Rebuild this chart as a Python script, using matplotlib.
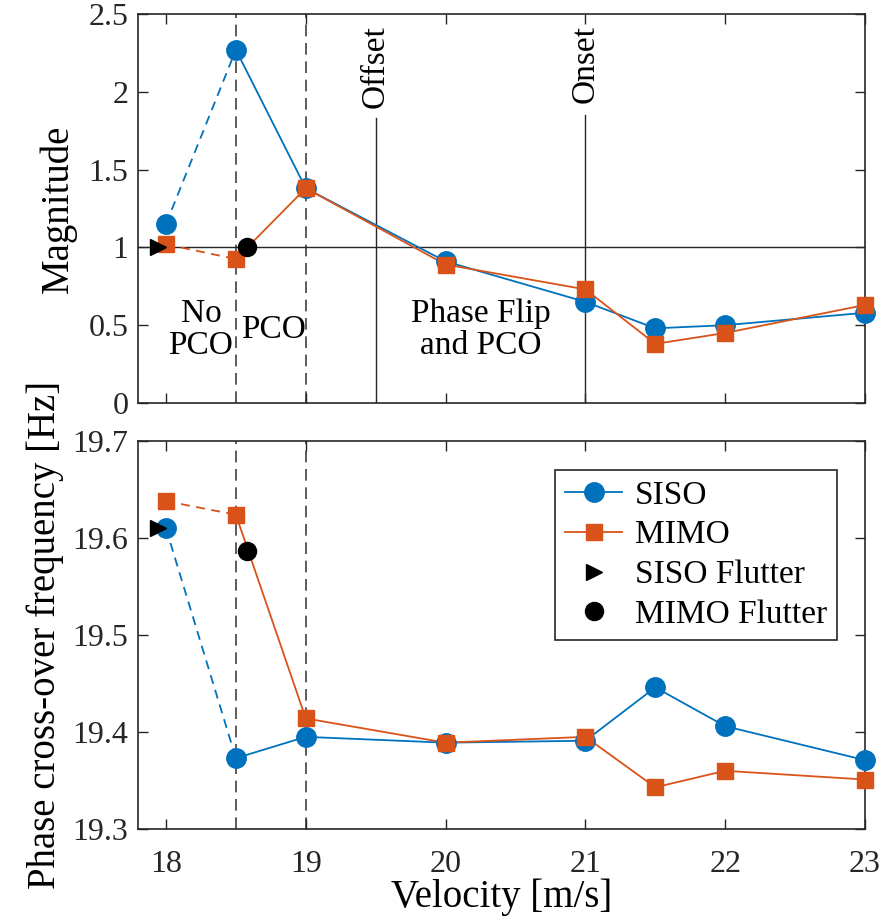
import matplotlib
matplotlib.use("Agg")
import matplotlib.pyplot as plt
from matplotlib.lines import Line2D

plt.rcParams['font.family'] = ['Liberation Serif', 'DejaVu Serif']
plt.rcParams['mathtext.fontset'] = 'stix'

velocity = [18, 18.5, 19, 20, 21, 21.5, 22, 23]
siso_mag = [1.15, 2.27, 1.38, 0.91, 0.65, 0.48, 0.50, 0.58]
mimo_mag = [1.02, 0.925, 1.38, 0.89, 0.73, 0.38, 0.45, 0.63]
siso_freq = [19.61, 19.373, 19.395, 19.389, 19.391, 19.446, 19.406, 19.371]
mimo_freq = [19.638, 19.624, 19.414, 19.389, 19.395, 19.343, 19.360, 19.351]

siso_flutter_v = 17.94
siso_flutter_mag = 1.0
siso_flutter_freq = 19.61
mimo_flutter_v = 18.58
mimo_flutter_mag = 1.0
mimo_flutter_freq = 19.587

pco_bounds = [18.5, 19]
offset_v = 19.5
onset_v = 21

blue = '#0072BD'
orange = '#D95319'

fig = plt.figure(figsize=(8.89, 9.24), dpi=100)
ax1 = fig.add_axes([138/889, 1-403/924, (865-138)/889, (403-14)/924])
ax2 = fig.add_axes([138/889, 1-829/924, (865-138)/889, (829-441)/924])

fs_tick = 23
fs_lab = 28
fs_ann = 24
ms_c = 14
ms_s = 11

def draw_series(ax, y_s, y_m):
    ax.plot(velocity[:2], y_s[:2], color=blue, ls=(0, (5, 3.5)), lw=1.3, zorder=3)
    ax.plot(velocity[:2], y_m[:2], color=orange, ls=(0, (5, 3.5)), lw=1.3, zorder=3)
    ax.plot(velocity[1:], y_s[1:], '-', color=blue, lw=1.3, zorder=3)
    ax.plot(velocity[1:], y_m[1:], '-', color=orange, lw=1.3, zorder=3)
    ax.plot(velocity, y_s, 'o', color=blue, ms=ms_c, mec=blue, zorder=4, clip_on=False)
    ax.plot(velocity, y_m, 's', color=orange, ms=ms_s, mec=orange, zorder=5, clip_on=False)

for ax in (ax1, ax2):
    for v in pco_bounds:
        ax.axvline(v, color='#404040', ls=(0, (7, 4)), lw=1.2, zorder=1)
    ax.set_xlim(17.8, 23)
    ax.set_xticks([18, 19, 20, 21, 22, 23])
    ax.tick_params(direction='in', length=7, width=1, top=True, right=True,
                   labelsize=fs_tick, colors='#262626')
    ax.tick_params(axis='y', pad=7)
    ax.tick_params(axis='x', pad=15)
    for s in ax.spines.values():
        s.set_linewidth(1.2)
        s.set_color('#262626')

# top axes
draw_series(ax1, siso_mag, mimo_mag)
ax1.axhline(1, color='#262626', lw=1, zorder=1)
ax1.plot([offset_v, offset_v], [0, 1.83], color='#262626', lw=1, zorder=1)
ax1.plot([onset_v, onset_v], [0, 1.85], color='#262626', lw=1, zorder=1)
ax1.text(offset_v, 2.43, 'Offset', rotation=90, ha='center', va='top', fontsize=fs_ann)
ax1.text(onset_v, 2.43, 'Onset', rotation=90, ha='center', va='top', fontsize=fs_ann)
ax1.text(18.25, 0.47, 'No\nPCO', ha='center', va='center', fontsize=fs_ann, linespacing=1.05)
ax1.text(18.77, 0.47, 'PCO', ha='center', va='center', fontsize=fs_ann)
ax1.text(20.25, 0.47, 'Phase Flip\nand PCO', ha='center', va='center', fontsize=fs_ann, linespacing=1.05)
ax1.plot([siso_flutter_v], [siso_flutter_mag], '>', color='black', ms=12, zorder=6)
ax1.plot([mimo_flutter_v], [mimo_flutter_mag], 'o', color='black', ms=13, zorder=6)
ax1.set_ylim(0, 2.5)
ax1.set_yticks([0, 0.5, 1, 1.5, 2, 2.5])
ax1.set_yticklabels(['0', '0.5', '1', '1.5', '2', '2.5'])
ax1.set_xticklabels([])
ax1.set_ylabel('Magnitude', fontsize=fs_lab, labelpad=8)

# bottom axes
draw_series(ax2, siso_freq, mimo_freq)
ax2.plot([siso_flutter_v], [siso_flutter_freq], '>', color='black', ms=12, zorder=6)
ax2.plot([mimo_flutter_v], [mimo_flutter_freq], 'o', color='black', ms=13, zorder=6)
ax2.set_ylim(19.3, 19.7)
ax2.set_yticks([19.3, 19.4, 19.5, 19.6, 19.7])
ax2.set_yticklabels(['19.3', '19.4', '19.5', '19.6', '19.7'])
ax2.set_xticklabels(['18', '19', '20', '21', '22', '23'])
ax2.set_ylabel('Phase cross-over frequency [Hz]', fontsize=fs_lab, labelpad=6)
ax2.set_xlabel('Velocity [m/s]', fontsize=fs_lab, labelpad=0)

handles = [
    Line2D([], [], color=blue, marker='o', ms=ms_c, lw=1.3),
    Line2D([], [], color=orange, marker='s', ms=ms_s, lw=1.3),
    Line2D([], [], color='black', marker='>', ms=12, lw=0),
    Line2D([], [], color='black', marker='o', ms=13, lw=0),
]
leg = ax2.legend(handles, ['SISO', 'MIMO', 'SISO Flutter', 'MIMO Flutter'],
                 loc='upper right', bbox_to_anchor=(0.962, 0.925), borderaxespad=0,
                 fontsize=fs_ann, fancybox=False, framealpha=1, edgecolor='#262626',
                 handlelength=1.7, handletextpad=0.4, borderpad=0.3, labelspacing=0.28)
leg.get_frame().set_linewidth(1.2)

fig.savefig('out.png', dpi=100)
